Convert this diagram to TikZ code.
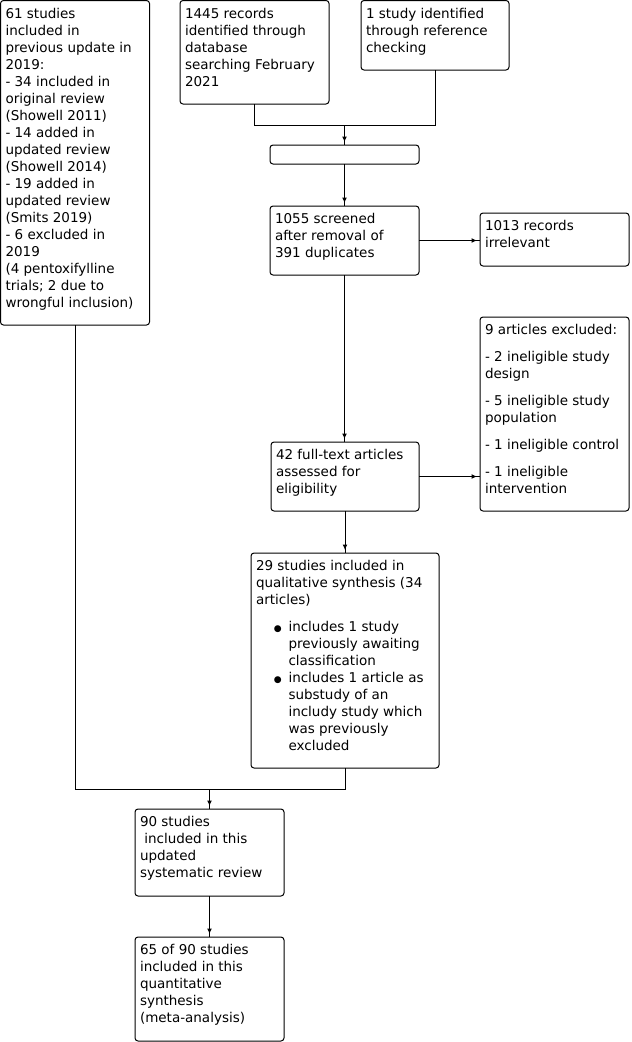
\documentclass[tikz,border=0pt]{standalone}
\usepackage{fontspec}
\setmainfont{DejaVu Sans}
\usetikzlibrary{arrows.meta,decorations.markings}
\newcommand\bt[3]{\parbox[c][#2pt][t]{\dimexpr#1pt-10pt\relax}{\raggedright\rule{0pt}{17.5pt}#3}}
\newcommand\bitem[1]{{\leftskip=32.5pt\noindent\llap{\makebox[0pt]{\fontsize{9}{9}\selectfont ●}\hspace{10.8pt}}#1\par}}
\tikzset{
  flowbox/.style={draw, line width=1pt, rounded corners=3pt, inner xsep=5pt, inner ysep=0pt,
    anchor=north west, outer sep=0pt, font=\fontsize{13.5}{17}\selectfont},
  conn/.style={line width=1pt},
  arr/.style={conn, postaction={decorate}, decoration={markings,
    mark=at position -3pt with {\arrow{Latex[length=5.5pt,width=5pt]}}}},
}
\begin{document}
\begin{tikzpicture}[x=1pt,y=-1pt]
\useasboundingbox (0,0) rectangle (632,1042);
\node[flowbox] (A) at (0.5,0.5) {\bt{149}{324.5}{61 studies\\included in\\previous update in\\2019:\\- 34 included in\\original review\\(Showell 2011)\\- 14 added in\\updated review\\(Showell 2014)\\- 19 added in\\updated review\\(Smits 2019)\\- 6 excluded in\\2019\\(4 pentoxifylline\\trials; 2 due to\\wrongful inclusion)}};
\node[flowbox] (B) at (180,0.5) {\bt{149}{103.5}{1445 records\\identified through\\database\\searching February\\2021}};
\node[flowbox] (C) at (361,0.5) {\bt{148}{69.5}{1 study identified\\through reference\\checking}};
\node[flowbox, minimum width=149pt, minimum height=19pt] (D) at (270,145) {};
\node[flowbox] (E) at (270,206) {\bt{149}{69}{1055 screened\\after removal of\\391 duplicates}};
\node[flowbox] (F) at (480,213) {\bt{149}{53}{1013 records\\irrelevant}};
\node[flowbox] (G) at (271,442) {\bt{148}{69}{42 full-text articles\\assessed for\\eligibility}};
\node[flowbox] (H) at (480,317) {\bt{149}{194}{9 articles excluded:\\[10pt]- 2 ineligible study\\design\\[10pt]- 5 ineligible study\\population\\[10pt]- 1 ineligible control\\[10pt]- 1 ineligible\\intervention}};
\node[flowbox] (I) at (251,553) {\bt{188}{215}{29 studies included in\\qualitative synthesis (34\\articles)\par\vspace{10pt}%
\bitem{includes 1 study\\previously awaiting\\classification}%
\bitem{includes 1 article as\\substudy of an\\includy study which\\was previously\\excluded}}};
\node[flowbox] (J) at (135,809) {\bt{149}{87}{90 studies\\\hspace*{4.3pt}included in this\\updated\\systematic review}};
\node[flowbox] (K) at (135,937) {\bt{149}{104}{65 of 90 studies\\included in this\\quantitative\\synthesis\\(meta-analysis)}};
\coordinate (t) at (344.5,125);
\coordinate (m) at (209.5,789);
\draw[conn] (B.south) |- (t);
\draw[conn] (C.south) |- (t);
\draw[arr] (t) -- (D.north);
\draw[arr] (D.south) -- (E.north);
\draw[arr] (E.east) -- (E.east -| F.west);
\draw[arr] (E.south) -- (E.south |- G.north);
\draw[arr] (G.east) -- (G.east -| H.west);
\draw[arr] (G.south) -- (G.south |- I.north);
\draw[conn] (A.south) |- (m);
\draw[conn] (I.south) |- (m);
\draw[arr] (m) -- (J.north);
\draw[arr] (J.south) -- (K.north);
\end{tikzpicture}
\end{document}
